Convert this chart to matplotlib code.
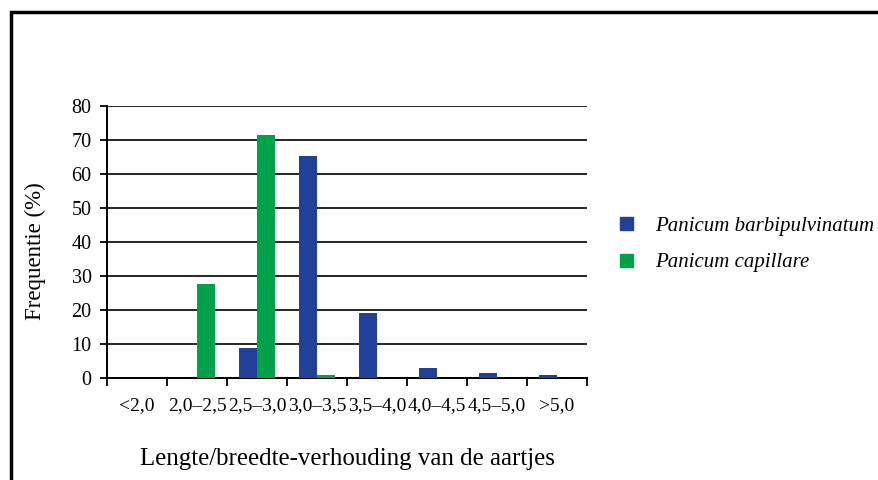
import matplotlib.pyplot as plt
import matplotlib.patches as mpatches
import numpy as np

klassen = ['<2,0', '2,0–2,5', '2,5–3,0', '3,0–3,5', '3,5–4,0', '4,0–4,5', '4,5–5,0', '>5,0']
barbipulvinatum = [0, 0, 8.8, 65.3, 19.1, 2.9, 1.6, 1.0]
capillare = [0, 27.6, 71.5, 1.0, 0, 0, 0, 0]
soorten = ['Panicum barbipulvinatum', 'Panicum capillare']
kleuren = ['#21409a', '#00a14b']

plt.rcParams['font.family'] = ['Liberation Serif', 'DejaVu Serif']

fig = plt.figure(figsize=(8.79, 4.8), dpi=100)
ax = fig.add_axes([0.1217, 0.2125, 0.546, 0.567])

x = np.arange(len(klassen))
w = 0.3
ax.bar(x - w/2, barbipulvinatum, w, color=kleuren[0], zorder=3)
ax.bar(x + w/2, capillare, w, color=kleuren[1], zorder=3)

ax.set_xlim(-0.5, len(klassen) - 0.5)
ax.set_ylim(0, 80)
ax.set_yticks(range(0, 81, 10))
ax.yaxis.grid(True, color='black', linewidth=1.2, zorder=1)
ax.set_axisbelow(True)

# ticks at category boundaries, labels in the middle
ax.set_xticks(np.arange(-0.5, len(klassen), 1))
ax.set_xticklabels([])
ax.set_xticks(x, minor=True)
ax.set_xticklabels(klassen, minor=True, fontsize=14)
ax.tick_params(axis='x', which='minor', length=0, pad=14)
ax.tick_params(axis='x', which='major', length=6, width=1.3, direction='out')
ax.tick_params(axis='y', length=5, width=1.3, labelsize=14.5, pad=6)

for s in ['top', 'right']:
    ax.spines[s].set_visible(False)
for s in ['left', 'bottom']:
    ax.spines[s].set_linewidth(1.4)

ax.set_ylabel('Frequentie (%)', fontsize=16.5)
ax.yaxis.set_label_coords(-0.128, 0.467)
ax.set_xlabel('Lengte/breedte-verhouding van de aartjes', fontsize=17.9, labelpad=24)

handles = [mpatches.Patch(color=k) for k in kleuren]
ax.legend(handles, soorten, loc='center left', bbox_to_anchor=(1.03, 0.49),
          frameon=False, handlelength=0.6, handleheight=0.6, handletextpad=1.1,
          labelspacing=0.85, prop={'family': 'Liberation Serif', 'style': 'italic', 'size': 15})

# frame around the figure (right and bottom sides fall outside the picture)
kader = mpatches.Rectangle((11/879, -0.1), 1.2, (480 - 12)/480 + 0.1, transform=fig.transFigure,
                           fill=False, edgecolor='black', linewidth=2.5, clip_on=False)
fig.patches.append(kader)

fig.savefig('out.png', dpi=100)
